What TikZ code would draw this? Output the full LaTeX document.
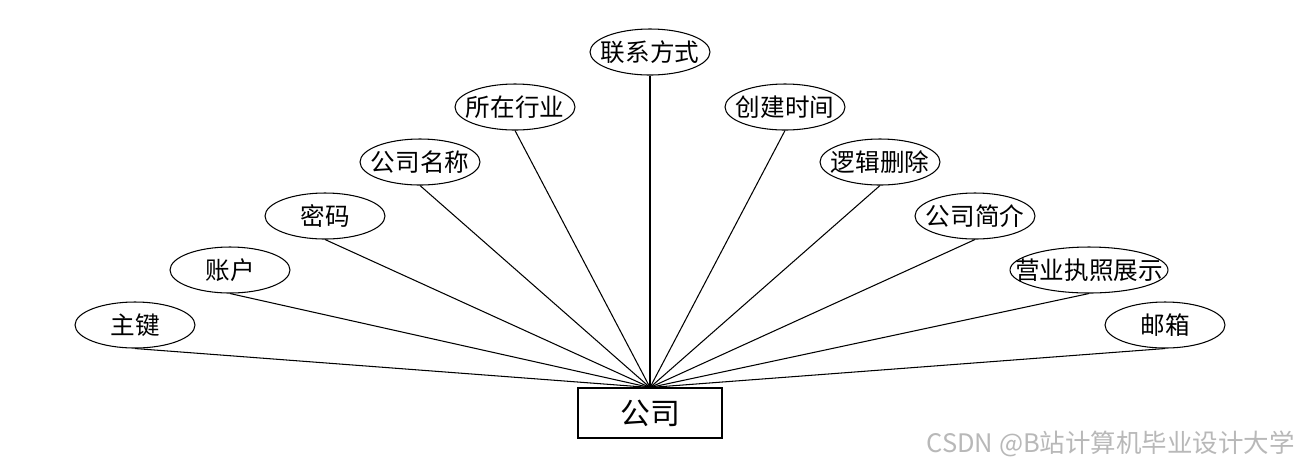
\documentclass[tikz,border=0pt]{standalone}
\usepackage{fontspec}
\setmainfont{Noto Sans CJK SC}
\usetikzlibrary{shapes.geometric}
\begin{document}
\begin{tikzpicture}[x=0.02cm,y=-0.02cm,
  attr/.style={ellipse,draw,line width=0.6pt,inner sep=0pt,minimum width=2.4cm,minimum height=0.92cm,
    label={[font=\fontsize{14}{14}\selectfont,inner sep=0pt]center:#1}},
  ent/.style={rectangle,draw,line width=0.6pt,inner sep=0pt,minimum width=2.88cm,minimum height=1.0cm,font=\fontsize{17}{17}\selectfont},
  link/.style={line width=0.6pt}]
\useasboundingbox (0,0) rectangle (1300,468);
\node[ent] (c) at (650,413) {公司};
\node[attr=主键] (a1) at (135,325) {};
\node[attr=账户] (a2) at (230,270) {};
\node[attr=密码] (a3) at (325,216) {};
\node[attr=公司名称] (a4) at (420,162) {};
\node[attr=所在行业] (a5) at (515,107) {};
\node[attr=联系方式] (a6) at (650,52) {};
\node[attr=创建时间] (a7) at (785,107) {};
\node[attr=逻辑删除] (a8) at (880,162) {};
\node[attr=公司简介] (a9) at (975,216) {};
\node[attr=营业执照展示,minimum width=3.16cm] (a10) at (1089,270) {};
\node[attr=邮箱] (a11) at (1165,325) {};
\foreach \i in {1,...,11} \draw[link] (a\i.south) -- (c.north);
\node[text=black!28,font=\fontsize{14.5}{14.5}\selectfont,anchor=east,inner sep=0pt] (wm) at (1295,444) {CSDN @B站计算机毕业设计大学};
\end{tikzpicture}
\end{document}
